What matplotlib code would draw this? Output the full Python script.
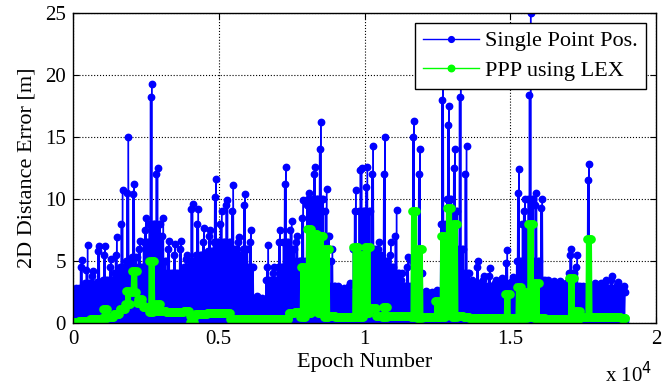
import numpy as np
import matplotlib
matplotlib.use('Agg')
import matplotlib.pyplot as plt

# ---------------- data ----------------
BIN_EPOCHS = 200          # width of each reading bin in epochs
N_EPOCHS = 18950          # last epoch of the record
SPP_FLOOR = 0.15          # lower edge of the dense Single Point band

# Single Point Pos.: highest spike per bin
SPP_PEAK = [2.8, 5.1, 6.3, 4.2, 6.2, 6.2, 5.2, 6.9, 10.7, 15.0,
            11.2, 6.6, 8.5, 19.3, 12.5, 8.5, 6.6, 6.4, 6.6, 5.5,
            9.6, 9.2, 7.7, 7.5, 11.6, 9.0, 9.9, 11.1, 6.9, 10.4,
            7.5, 2.2, 2.0, 6.3, 4.5, 7.5, 12.6, 8.2, 7.0, 9.9,
            10.5, 12.6, 16.2, 10.8, 6.0, 3.0, 2.8, 3.2, 10.7, 12.5,
            12.6, 14.3, 6.5, 15.0, 6.5, 9.1, 4.0, 5.3, 16.3, 14.0,
            2.6, 2.5, 2.7, 21.0, 17.5, 14.0, 21.0, 14.3, 3.5, 5.0,
            3.8, 4.4, 3.5, 3.6, 5.9, 3.7, 12.4, 10.0, 25.0, 10.5,
            10.0, 3.5, 3.4, 3.4, 3.2, 6.0, 5.5, 3.0, 12.8, 3.2,
            3.2, 3.5, 3.8, 3.3, 3.0]
# Single Point Pos.: second-highest dot cluster per bin
SPP_SECOND = [2.6, 4.5, 4.3, 3.8, 5.8, 5.5, 4.5, 5.5, 8.0, 10.5,
              10.4, 6.0, 7.5, 18.2, 12.0, 7.0, 6.0, 5.5, 6.0, 5.2,
              9.2, 8.0, 6.5, 7.0, 10.2, 8.0, 9.5, 9.0, 6.5, 9.5,
              6.5, 2.0, 1.8, 4.5, 4.0, 6.5, 11.2, 7.5, 6.5, 8.5,
              10.0, 12.0, 14.0, 9.0, 5.0, 2.8, 2.6, 3.0, 9.0, 12.3,
              11.0, 12.0, 6.0, 12.0, 5.5, 7.0, 3.5, 4.5, 15.0, 12.0,
              2.5, 2.4, 2.5, 18.0, 16.0, 12.5, 18.2, 12.0, 3.2, 4.5,
              3.5, 3.8, 3.2, 3.3, 4.8, 3.4, 10.5, 9.0, 18.4, 9.5,
              9.3, 3.3, 3.2, 3.2, 3.0, 5.5, 4.5, 2.9, 11.5, 3.0,
              3.0, 3.3, 3.5, 3.1, 2.8]
# Single Point Pos.: top of the solid band per bin
SPP_BAND = [2.3, 2.8, 3.2, 3.0, 3.3, 3.5, 3.5, 4.0, 4.5, 5.0,
            5.3, 4.5, 6.5, 8.0, 8.0, 5.0, 4.0, 4.0, 4.0, 4.5,
            5.0, 5.5, 5.5, 5.8, 6.5, 6.5, 6.5, 6.0, 5.5, 6.0,
            4.5, 1.6, 1.5, 3.5, 3.5, 4.5, 6.5, 6.0, 5.0, 5.0,
            9.5, 10.0, 10.0, 7.0, 3.0, 2.4, 2.2, 2.4, 6.0, 9.0,
            9.0, 6.0, 5.5, 5.0, 4.5, 4.0, 3.0, 3.0, 5.0, 4.0,
            2.2, 2.1, 2.2, 8.0, 10.0, 9.0, 6.0, 4.0, 2.8, 3.2,
            3.0, 3.0, 2.6, 2.8, 3.2, 2.8, 5.0, 8.0, 10.0, 5.0,
            3.5, 3.0, 3.0, 2.8, 2.6, 4.0, 3.0, 2.6, 3.0, 2.6,
            2.6, 2.8, 2.8, 2.7, 2.5]
# PPP using LEX: high / low value per bin
PPP_HIGH = [0.1, 0.15, 0.2, 0.3, 0.35, 1.1, 0.5, 0.7, 1.1, 2.6,
            4.2, 1.9, 1.3, 5.0, 1.5, 1.0, 0.9, 0.9, 0.9, 1.0,
            0.6, 0.7, 0.7, 0.8, 0.8, 0.8, 0.8, 0.35, 0.35, 0.35,
            0.35, 0.3, 0.3, 0.3, 0.3, 0.3, 0.35, 0.8, 0.9, 4.5,
            7.6, 7.2, 7.0, 6.0, 0.6, 0.5, 0.5, 0.5, 6.1, 5.5,
            6.1, 1.2, 0.6, 1.3, 0.6, 0.6, 0.6, 0.6, 9.0, 6.0,
            0.5, 0.5, 1.8, 7.0, 9.3, 8.0, 0.6, 0.5, 0.4, 0.4,
            0.4, 0.4, 0.4, 0.4, 2.3, 0.4, 2.9, 2.5, 8.0, 3.2,
            0.4, 0.35, 0.3, 0.3, 0.3, 3.6, 1.0, 0.5, 6.8, 0.45,
            0.45, 0.45, 0.45, 0.45, 0.4]
PPP_LOW = [0.1, 0.15, 0.2, 0.3, 0.35, 0.4, 0.5, 0.7, 1.1, 1.5,
           2.5, 1.6, 1.3, 0.9, 1.0, 1.0, 0.9, 0.9, 0.9, 1.0,
           0.1, 0.7, 0.7, 0.8, 0.8, 0.8, 0.8, 0.35, 0.35, 0.35,
           0.35, 0.3, 0.3, 0.3, 0.3, 0.3, 0.35, 0.8, 0.9, 0.5,
           0.8, 1.0, 0.8, 0.5, 0.6, 0.5, 0.5, 0.5, 0.5, 0.5,
           0.8, 1.2, 0.6, 0.5, 0.6, 0.6, 0.6, 0.6, 0.5, 0.4,
           0.5, 0.5, 0.5, 0.5, 1.0, 0.5, 0.6, 0.5, 0.4, 0.4,
           0.4, 0.4, 0.4, 0.4, 0.4, 0.4, 0.4, 0.4, 0.5, 0.4,
           0.4, 0.35, 0.3, 0.3, 0.3, 0.3, 0.3, 0.5, 0.5, 0.45,
           0.45, 0.45, 0.45, 0.45, 0.4]

X_TICKS = [0, 5000, 10000, 15000, 20000]
X_TICKLABELS = ['0', '0.5', '1', '1.5', '2']
Y_TICKS = [0, 5, 10, 15, 20, 25]
SERIES_NAMES = ['Single Point Pos.', 'PPP using LEX']

# ---------------- build the dense series ----------------
SUB = 10
step = BIN_EPOCHS // SUB
spp_x, spp_y, ppp_x, ppp_y = [], [], [], []
for k in range(len(SPP_PEAK)):
    e0 = k * BIN_EPOCHS
    spp_vals = [SPP_FLOOR, SPP_BAND[k], SPP_FLOOR, SPP_SECOND[k],
                SPP_FLOOR, SPP_PEAK[k], SPP_FLOOR, SPP_BAND[k],
                SPP_FLOOR, SPP_BAND[k]]
    ppp_vals = [PPP_LOW[k], PPP_HIGH[k]] * (SUB // 2)
    for j in range(SUB):
        e = e0 + j * step
        if e > N_EPOCHS:
            break
        spp_x.append(e); spp_y.append(spp_vals[j])
        ppp_x.append(e); ppp_y.append(ppp_vals[j])

# ---------------- figure ----------------
plt.rcParams['font.family'] = ['Liberation Serif', 'DejaVu Serif']
fig = plt.figure(figsize=(6.71, 3.89), dpi=100)
ax = fig.add_axes([73/671, 1-323/389, (656-73)/671, (323-13)/389])

ax.plot(spp_x, spp_y, color=(0, 0, 1), lw=1.0, marker='o', ms=4.6,
        mec=(0, 0, 1), mfc=(0, 0, 1), label=SERIES_NAMES[0], zorder=3)
ax.plot(ppp_x, ppp_y, color=(0, 1, 0), lw=1.0, marker='o', ms=5.2,
        mec=(0, 1, 0), mfc=(0, 1, 0), label=SERIES_NAMES[1], zorder=4)

ax.set_xlim(0, 20000)
ax.set_ylim(0, 25)
ax.set_xticks(X_TICKS)
ax.set_xticklabels(X_TICKLABELS)
ax.set_yticks(Y_TICKS)
ax.tick_params(direction='in', length=4, width=0.8, labelsize=15,
               top=True, right=True, pad=5)
ax.grid(True, color='black', linestyle=':', linewidth=0.8)
ax.set_axisbelow(False)
for s in ax.spines.values():
    s.set_linewidth(1.0)
    s.set_zorder(6)

ax.set_xlabel('Epoch Number', fontsize=16, labelpad=3)
ax.set_ylabel('2D Distance Error [m]', fontsize=16, labelpad=6)
fig.text(605/671, 1-375/389, r'x 10$^{4}$', fontsize=15,
         ha='left', va='center')

leg = ax.legend(loc='upper right', fontsize=16, frameon=True, fancybox=False,
                edgecolor='black', framealpha=1, borderpad=0.35,
                handlelength=2.5, handletextpad=0.3, labelspacing=0.4,
                borderaxespad=0.45, markerscale=0.9)
leg.get_frame().set_linewidth(1.0)
leg.set_zorder(10)

fig.savefig('out.png', dpi=100)
